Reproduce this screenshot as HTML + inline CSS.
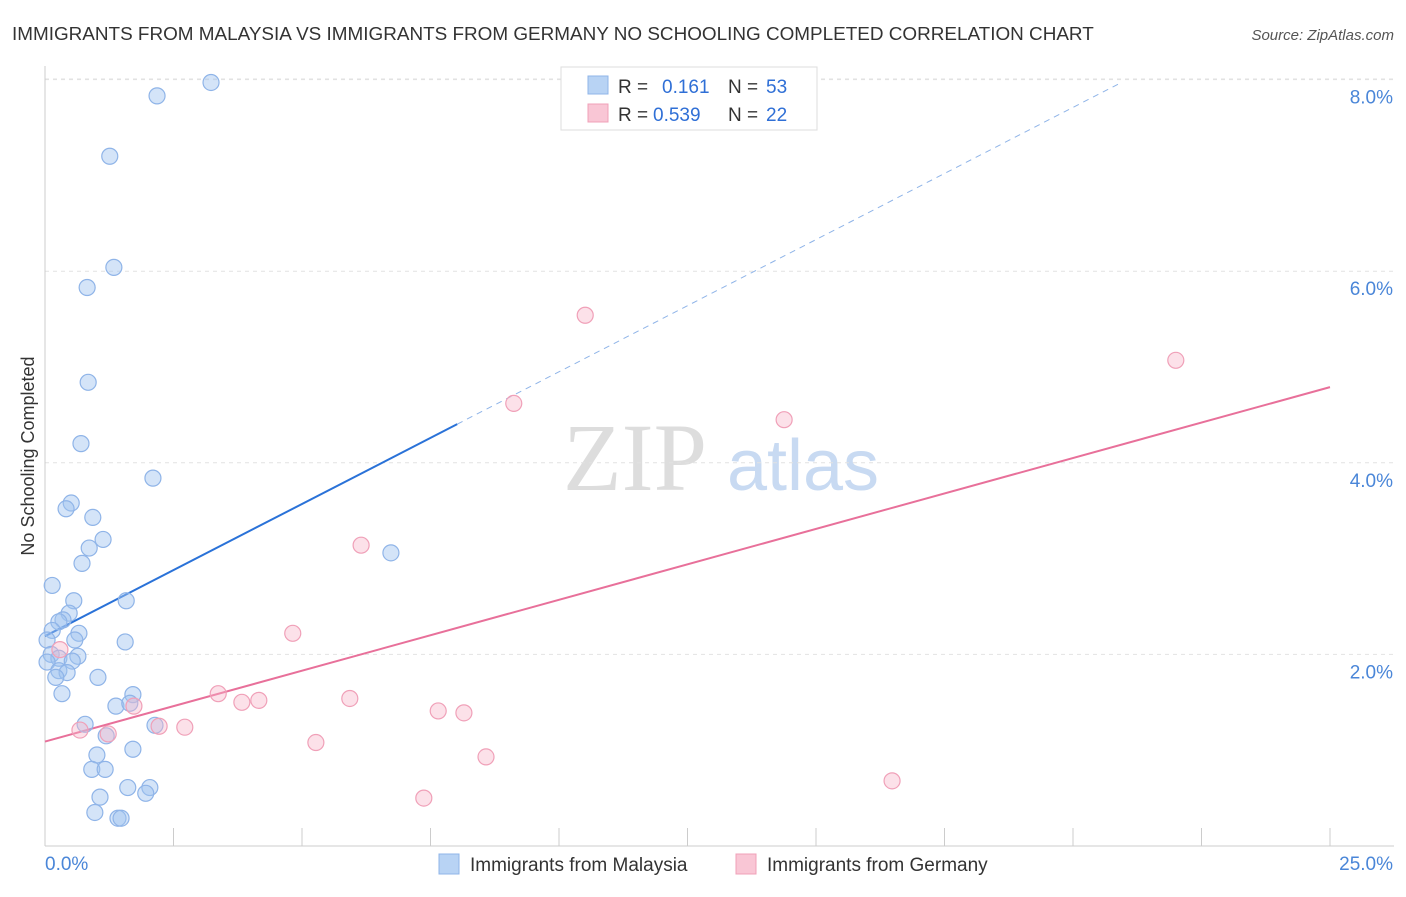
<!DOCTYPE html>
<html><head><meta charset="utf-8"><style>
body{margin:0;background:#fff;font-family:"Liberation Sans",sans-serif;}
</style></head><body>
<svg id="chart" width="1406" height="892" xmlns="http://www.w3.org/2000/svg">
<text x="12" y="40" font-size="18.9" fill="#333">IMMIGRANTS FROM MALAYSIA VS IMMIGRANTS FROM GERMANY NO SCHOOLING COMPLETED CORRELATION CHART</text>
<text x="1394" y="40" font-size="15" fill="#555" font-style="italic" text-anchor="end">Source: ZipAtlas.com</text>
<text x="34" y="456" font-size="18" fill="#333" text-anchor="middle" transform="rotate(-90 34 456)">No Schooling Completed</text>
<g>
<text x="635" y="490" font-size="96" fill="#ddd" font-family="Liberation Serif,serif" text-anchor="middle">ZIP</text>
<text x="803" y="490" font-size="72" fill="#c8daf2" text-anchor="middle">atlas</text>
</g>
<g id="grid"></g><g id="axes"></g><g id="lines"></g><g id="pts"></g>
<g>
<rect x="561" y="67" width="256" height="63" fill="#fff" stroke="#ddd"/>
<rect x="588" y="76" width="20" height="18" fill="#b8d3f4" stroke="#8fb4e8"/>
<rect x="588" y="104" width="20" height="18" fill="#f9c6d5" stroke="#f0a0b8"/>
<text x="618" y="93" font-size="19" fill="#333">R = </text><text x="662" y="93" font-size="19" fill="#2f6fd6">0.161</text>
<text x="728" y="93" font-size="19" fill="#333">N = </text><text x="766" y="93" font-size="19" fill="#2f6fd6">53</text>
<text x="618" y="121" font-size="19" fill="#333">R = </text><text x="653" y="121" font-size="19" fill="#2f6fd6">0.539</text>
<text x="728" y="121" font-size="19" fill="#333">N = </text><text x="766" y="121" font-size="19" fill="#2f6fd6">22</text>
</g>
<g>
<rect x="439" y="854" width="20" height="20" fill="#b8d3f4" stroke="#8fb4e8"/>
<text x="470" y="871" font-size="19" fill="#333">Immigrants from Malaysia</text>
<rect x="736" y="854" width="20" height="20" fill="#f9c6d5" stroke="#f0a0b8"/>
<text x="767" y="871" font-size="19" fill="#333">Immigrants from Germany</text>
</g>
</svg>
<script>
const xTicks=[0,2.5,5,7.5,10,12.5,15,17.5,20,22.5,25];
const yTicks=[2,4,6,8];
const yTickLabels=["2.0%","4.0%","6.0%","8.0%"];
const malaysiaX=[3.23,2.18,1.26,1.34,0.82,0.84,0.70,2.10,0.51,0.41,0.93,1.13,0.86,0.72,6.73,0.14,1.58,0.56,0.47,0.35,0.27,0.14,0.66,0.04,0.58,1.56,0.12,0.64,0.27,0.53,0.04,0.27,0.43,0.21,1.03,0.33,1.71,1.38,1.65,0.78,2.14,1.19,1.71,1.01,0.91,1.17,1.61,2.04,1.96,1.07,0.97,1.42,1.48];
const malaysiaY=[7.97,7.83,7.20,6.04,5.83,4.84,4.20,3.84,3.58,3.52,3.43,3.20,3.11,2.95,3.06,2.72,2.56,2.56,2.43,2.36,2.34,2.25,2.22,2.15,2.15,2.13,2.00,1.98,1.96,1.93,1.92,1.83,1.81,1.76,1.76,1.59,1.58,1.46,1.49,1.27,1.26,1.15,1.01,0.95,0.80,0.80,0.61,0.61,0.55,0.51,0.35,0.29,0.29];
const germanyX=[10.51,22.00,9.12,14.38,6.15,4.82,0.29,3.37,3.83,4.16,5.93,1.73,0.68,1.23,2.22,2.72,7.65,8.15,5.27,8.58,7.37,16.48];
const germanyY=[5.54,5.07,4.62,4.45,3.14,2.22,2.05,1.59,1.50,1.52,1.54,1.46,1.21,1.17,1.25,1.24,1.41,1.39,1.08,0.93,0.50,0.68];
const malaysiaTrend=[2.19,0.276];const malaysiaSolidEnd=8.02;const malaysiaDashEnd=20.9;
const germanyTrend=[1.09,0.148];
const X=v=>45+v*51.4, Y=v=>846-v*95.8;
const NS="http://www.w3.org/2000/svg";
function mk(parent,tag,attrs){const e=document.createElementNS(NS,tag);for(const k in attrs)e.setAttribute(k,attrs[k]);document.getElementById(parent).appendChild(e);return e;}
yTicks.forEach((t,i)=>{
 const g=mk('grid','line',{x1:45,x2:1394,y1:Y(t),y2:Y(t),stroke:'#e2e2e2','stroke-dasharray':'4,4'});
 
 
 const l=mk('grid','text',{x:1393,y:Y(t)+24,'font-size':19,fill:'#4a86d8','text-anchor':'end'});l.textContent=yTickLabels[i];
 
 
});
const topGrid=mk('grid','line',{x1:45,x2:1394,y1:79,y2:79,stroke:'#e2e2e2','stroke-dasharray':'4,4'});


const xa=mk('axes','line',{x1:45,x2:1394,y1:846,y2:846,stroke:'#ccc'});


const ya=mk('axes','line',{x1:45,x2:45,y1:66,y2:846,stroke:'#ccc'});


xTicks.forEach(t=>{const e=mk('axes','line',{x1:X(t),x2:X(t),y1:828,y2:846,stroke:'#ccc'});
 
 });
const l0=mk('axes','text',{x:45,y:870,'font-size':19,fill:'#4a86d8'});l0.textContent='0.0%';


const l1=mk('axes','text',{x:1393,y:870,'font-size':19,fill:'#4a86d8','text-anchor':'end'});l1.textContent='25.0%';


malaysiaX.forEach((x,i)=>{const c=mk('pts','circle',{cx:X(x),cy:Y(malaysiaY[i]),r:8,fill:'rgba(160,196,240,0.45)',stroke:'#8fb4e8','stroke-width':1.2});
 
 });
germanyX.forEach((x,i)=>{const c=mk('pts','circle',{cx:X(x),cy:Y(germanyY[i]),r:8,fill:'rgba(248,180,200,0.4)',stroke:'#f0a0b8','stroke-width':1.2});
 
 });
const f=(tr,x)=>tr[0]+tr[1]*x;
const bs=mk('lines','line',{x1:X(0),y1:Y(f(malaysiaTrend,0)),x2:X(malaysiaSolidEnd),y2:Y(f(malaysiaTrend,malaysiaSolidEnd)),stroke:'#2a72d8','stroke-width':2});


const bd=mk('lines','line',{x1:X(malaysiaSolidEnd),y1:Y(f(malaysiaTrend,malaysiaSolidEnd)),x2:X(malaysiaDashEnd),y2:Y(f(malaysiaTrend,malaysiaDashEnd)),stroke:'#8fb4e8','stroke-width':1,'stroke-dasharray':'6,5'});


const gl=mk('lines','line',{x1:X(0),y1:Y(f(germanyTrend,0)),x2:X(25),y2:Y(f(germanyTrend,25)),stroke:'#e8709a','stroke-width':2});


</script>
</body></html>
